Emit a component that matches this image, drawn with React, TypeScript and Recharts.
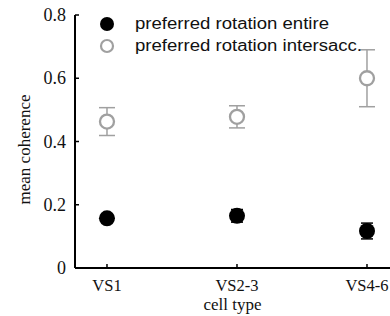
import React from 'react';
import { ScatterChart, Scatter, XAxis, YAxis, ErrorBar, Legend } from 'recharts';

const categories = ['VS1', 'VS2-3', 'VS4-6'];
const entireMean = [0.157, 0.165, 0.117];
const entireErr = [0.012, 0.02, 0.025];
const interMean = [0.463, 0.478, 0.6];
const interErr = [0.044, 0.035, 0.09];
const yTicks = [0, 0.2, 0.4, 0.6, 0.8];
const seriesNames = ['preferred rotation entire', 'preferred rotation intersacc.'];

const entireData = categories.map((c, i) => ({ x: i + 1, y: entireMean[i], err: entireErr[i] }));
const interData = categories.map((c, i) => ({ x: i + 1, y: interMean[i], err: interErr[i] }));

const SERIF = 'Liberation Serif, Times New Roman, serif';
const GRAY = '#a0a0a0';

const BlackDot = (props: any) => <circle cx={props.cx} cy={props.cy} r={8} fill="#000" />;
const GrayDot = (props: any) => (
  <circle cx={props.cx} cy={props.cy} r={7} fill="#fff" stroke={GRAY} strokeWidth={2.3} />
);

const XTick = (props: any) => {
  const { x, y, payload } = props;
  return (
    <g>
      <line x1={x} x2={x} y1={y} y2={y - 4} stroke="#000" strokeWidth={1.5} />
      <text x={x} y={y + 23} textAnchor="middle" fill="#111" fontFamily={SERIF} fontSize={16.5}>
        {categories[payload.value - 1]}
      </text>
    </g>
  );
};

const YTick = (props: any) => {
  const { x, y, payload } = props;
  return (
    <g>
      <line x1={x} x2={x + 4} y1={y} y2={y} stroke="#000" strokeWidth={1.5} />
      <text x={x - 9} y={y + 6} textAnchor="end" fill="#111" fontFamily={SERIF} fontSize={18}>
        {payload.value === 0 ? '0' : String(payload.value)}
      </text>
    </g>
  );
};

const LegendContent = () => (
  <div style={{ fontFamily: 'Liberation Sans, Arial, sans-serif', fontSize: 16, color: '#111', lineHeight: '22px', textAlign: 'left' }}>
    {seriesNames.map((n, i) => (
      <div key={n} style={{ display: 'flex', alignItems: 'center', height: 22 }}>
        <svg width={36} height={22}>
          {i === 0 ? (
            <circle cx={8} cy={11} r={7} fill="#000" />
          ) : (
            <circle cx={8} cy={11} r={6} fill="#fff" stroke={GRAY} strokeWidth={2.2} />
          )}
        </svg>
        <span style={{ display: 'inline-block', transform: 'scaleX(1.16)', transformOrigin: 'left center', whiteSpace: 'nowrap' }}>{n}</span>
      </div>
    ))}
  </div>
);

export default function App() {
  return (
    <div style={{ position: 'absolute', left: 0, top: 0, width: 390, height: 316, background: '#fff' }}>
      <ScatterChart width={390} height={316} margin={{ top: 15, right: 0, left: 0, bottom: 0 }}>
        <XAxis
          type="number"
          dataKey="x"
          domain={[0.754, 3.177]}
          ticks={[1, 2, 3]}
          allowDataOverflow
          height={48}
          axisLine={{ stroke: '#000', strokeWidth: 2 }}
          tickLine={false}
          tickSize={0}
          tickMargin={0}
          tick={<XTick />}
          label={{ value: 'cell type', position: 'insideBottom', offset: 6, fill: '#111', fontFamily: SERIF, fontSize: 17 }}
        />
        <YAxis
          type="number"
          dataKey="y"
          domain={[0, 0.8]}
          ticks={yTicks}
          width={75}
          axisLine={{ stroke: '#000', strokeWidth: 2 }}
          tickLine={false}
          tickSize={0}
          tickMargin={0}
          tick={<YTick />}
          label={{ value: 'mean coherence', angle: -90, position: 'insideLeft', offset: 24, dy: 8, style: { textAnchor: 'middle' }, fill: '#111', fontFamily: SERIF, fontSize: 17 }}
        />
        <Legend layout="horizontal" verticalAlign="middle" align="center" wrapperStyle={{ top: 13, left: 99, width: 290 }} content={LegendContent} />
        <Scatter name={seriesNames[0]} data={entireData} shape={BlackDot} isAnimationActive={false}>
          <ErrorBar dataKey="err" direction="y" width={6} stroke="#000" strokeWidth={1.5} isAnimationActive={false} />
        </Scatter>
        <Scatter name={seriesNames[1]} data={interData} shape={GrayDot} isAnimationActive={false}>
          <ErrorBar dataKey="err" direction="y" width={8} stroke={GRAY} strokeWidth={1.5} isAnimationActive={false} />
        </Scatter>
      </ScatterChart>
    </div>
  );
}
